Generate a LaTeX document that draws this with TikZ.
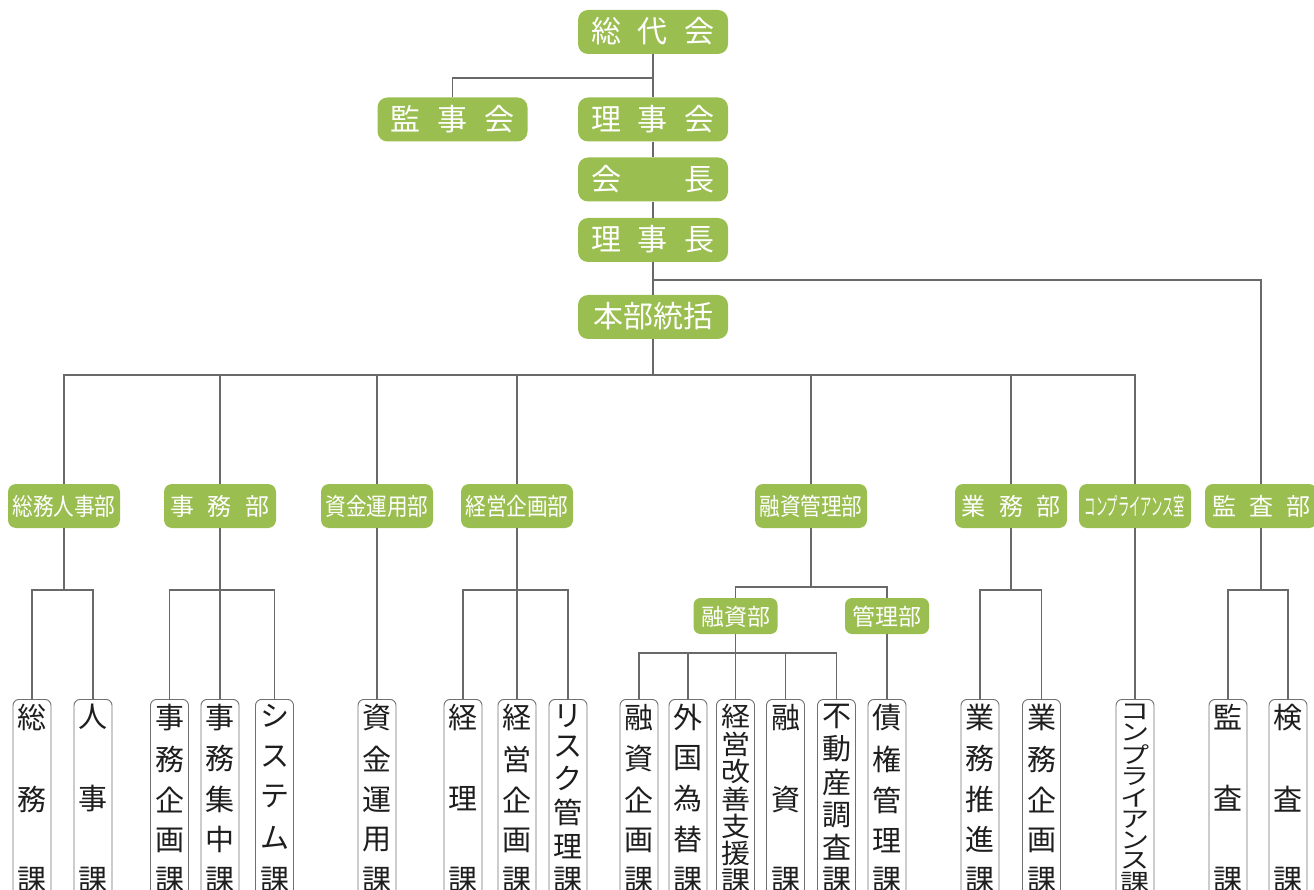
\documentclass[tikz,border=0pt]{standalone}
\usepackage{fontspec}
\setmainfont{Noto Sans CJK JP}
\usepackage{graphicx}
\definecolor{grn}{RGB}{155,190,80}
\definecolor{lne}{RGB}{105,105,105}
\definecolor{bdr}{RGB}{112,112,112}
\definecolor{txt}{RGB}{30,30,30}
\newcommand\vcol[2]{\vbox to 186pt{\offinterlineskip\hsize=34pt\foreach \cc [count=\ii] in {#2}{\ifnum\ii>1 \vfill\fi\hbox to 34pt{\hss\scalebox{1}[#1]{\cc}\hss}}}}
\newcommand\spread[2]{\hbox to #1{#2}}
\newcommand\lw[1]{\lower0.24em\hbox{#1}}
\tikzset{
  topbox/.style={fill=grn, rounded corners=10pt, minimum width=150pt, minimum height=44pt, inner sep=0pt, text=white, font=\fontsize{30}{30}\selectfont, text height=0.83em, text depth=0.07em},
  deptbox/.style={fill=grn, rounded corners=8pt, minimum width=112pt, minimum height=44pt, inner sep=0pt, text=white, font=\fontsize{24}{24}\selectfont, text height=0.83em, text depth=0.07em},
  secbox/.style={fill=grn, rounded corners=7pt, minimum width=84pt, minimum height=36pt, inner sep=0pt, text=white, font=\fontsize{23}{23}\selectfont, text height=0.83em, text depth=0.07em},
  subbox/.style={draw=bdr, line width=0.9pt, rounded corners=6pt, fill=white, minimum width=38pt, inner xsep=0pt, inner ysep=5pt, text=txt, font=\fontsize{29}{29}\selectfont, anchor=north},
  conn/.style={draw=lne, line width=1.2pt}
}
\begin{document}
\begin{tikzpicture}[x=1pt,y=-1pt]
\useasboundingbox (0,0) rectangle (1314,890);
\clip (0,0) rectangle (1314,890);
% top
\node[topbox] (sodai) at (653,32) {\lw{\spread{124pt}{総\hfill 代\hfill 会}}};
\node[topbox] (kanjikai) at (452.5,119.5) {\lw{\spread{124pt}{監\hfill 事\hfill 会}}};
\node[topbox] (rijikai) at (653,119.5) {\lw{\spread{124pt}{理\hfill 事\hfill 会}}};
\node[topbox] (kaicho) at (653,179.5) {\lw{\spread{124pt}{会\hfill 長}}};
\node[topbox] (rijicho) at (653,240) {\lw{\spread{124pt}{理\hfill 事\hfill 長}}};
\node[topbox] (honbu) at (653,317) {\lw{本部統括}};
% departments
\node[deptbox] (d1) at (64,506) {\lw{\scalebox{0.86}[1]{総務人事部}}};
\node[deptbox] (d2) at (220,506) {\lw{\spread{100pt}{事\hfill 務\hfill 部}}};
\node[deptbox] (d3) at (377,506) {\lw{\scalebox{0.86}[1]{資金運用部}}};
\node[deptbox] (d4) at (517,506) {\lw{\scalebox{0.86}[1]{経営企画部}}};
\node[deptbox] (d5) at (811,506) {\lw{\scalebox{0.86}[1]{融資管理部}}};
\node[deptbox] (d6) at (1011,506) {\lw{\spread{100pt}{業\hfill 務\hfill 部}}};
\node[deptbox] (d7) at (1135,506) {\lw{\scalebox{0.47}[1]{コンプライアンス室}}};
\node[deptbox] (d8) at (1261,506) {\lw{\spread{98pt}{監\hfill 査\hfill 部}}};
% sections
\node[secbox] (yushi) at (735.5,616) {\lw{融資部}};
\node[secbox] (kanri) at (887,616) {\lw{管理部}};
% sub boxes
\node[subbox] (k11) at (32,699) {\vcol{1}{総,務,課}};
\node[subbox] (k12) at (93,699) {\vcol{1}{人,事,課}};
\node[subbox] (k21) at (169.5,699) {\vcol{1}{事,務,企,画,課}};
\node[subbox] (k22) at (220,699) {\vcol{1}{事,務,集,中,課}};
\node[subbox] (k23) at (274.5,699) {\vcol{1}{シ,ス,テ,ム,課}};
\node[subbox] (k31) at (377,699) {\vcol{1}{資,金,運,用,課}};
\node[subbox] (k41) at (463,699) {\vcol{1}{経,理,課}};
\node[subbox] (k42) at (517,699) {\vcol{1}{経,営,企,画,課}};
\node[subbox] (k43) at (568,699) {\vcol{1}{リ,ス,ク,管,理,課}};
\node[subbox] (k51) at (639,699) {\vcol{1}{融,資,企,画,課}};
\node[subbox] (k52) at (688,699) {\vcol{1}{外,国,為,替,課}};
\node[subbox] (k53) at (735.5,699) {\vcol{0.92}{経,営,改,善,支,援,課}};
\node[subbox] (k54) at (785.5,699) {\vcol{1}{融,資,課}};
\node[subbox] (k55) at (836.5,699) {\vcol{1}{不,動,産,調,査,課}};
\node[subbox] (k56) at (887,699) {\vcol{1}{債,権,管,理,課}};
\node[subbox] (k61) at (980,699) {\vcol{1}{業,務,推,進,課}};
\node[subbox] (k62) at (1041.5,699) {\vcol{1}{業,務,企,画,課}};
\node[subbox] (k71) at (1135,699) {\vcol{0.78}{コ,ン,プ,ラ,イ,ア,ン,ス,課}};
\node[subbox] (k81) at (1228,699) {\vcol{1}{監,査,課}};
\node[subbox] (k82) at (1288,699) {\vcol{1}{検,査,課}};
% junctions
\coordinate (j1) at (653,78);
\coordinate (j2) at (653,280);
\coordinate (bus) at (653,375);
\coordinate (b1) at (64,590);
\coordinate (b2) at (220,590);
\coordinate (b4) at (517,590);
\coordinate (b5) at (811,587);
\coordinate (b6) at (735.5,653);
\coordinate (b7) at (1011,590);
\coordinate (b9) at (1261,590);
% connectors
\draw[conn] (sodai.south) -- (rijikai.north);
\draw[conn] (rijikai.south) -- (kaicho.north);
\draw[conn] (kaicho.south) -- (rijicho.north);
\draw[conn] (rijicho.south) -- (honbu.north);
\draw[conn] (kanjikai.north) |- (j1);
\draw[conn] (d8.north) |- (j2);
\draw[conn] (honbu.south) -- (bus);
\foreach \d in {d1,d2,d3,d4,d5,d6,d7} \draw[conn] (\d.north) |- (bus);
\draw[conn] (d1.south) -- (b1);
\draw[conn] (k11.north) |- (b1);
\draw[conn] (k12.north) |- (b1);
\draw[conn] (d2.south) -- (b2);
\foreach \k in {k21,k22,k23} \draw[conn] (\k.north) |- (b2);
\draw[conn] (d3.south) -- (k31.north);
\draw[conn] (d4.south) -- (b4);
\foreach \k in {k41,k42,k43} \draw[conn] (\k.north) |- (b4);
\draw[conn] (d5.south) -- (b5);
\draw[conn] (yushi.north) |- (b5);
\draw[conn] (kanri.north) |- (b5);
\draw[conn] (yushi.south) -- (b6);
\foreach \k in {k51,k52,k53,k54,k55} \draw[conn] (\k.north) |- (b6);
\draw[conn] (kanri.south) -- (k56.north);
\draw[conn] (d6.south) -- (b7);
\foreach \k in {k61,k62} \draw[conn] (\k.north) |- (b7);
\draw[conn] (d7.south) -- (k71.north);
\draw[conn] (d8.south) -- (b9);
\foreach \k in {k81,k82} \draw[conn] (\k.north) |- (b9);
\end{tikzpicture}
\end{document}
